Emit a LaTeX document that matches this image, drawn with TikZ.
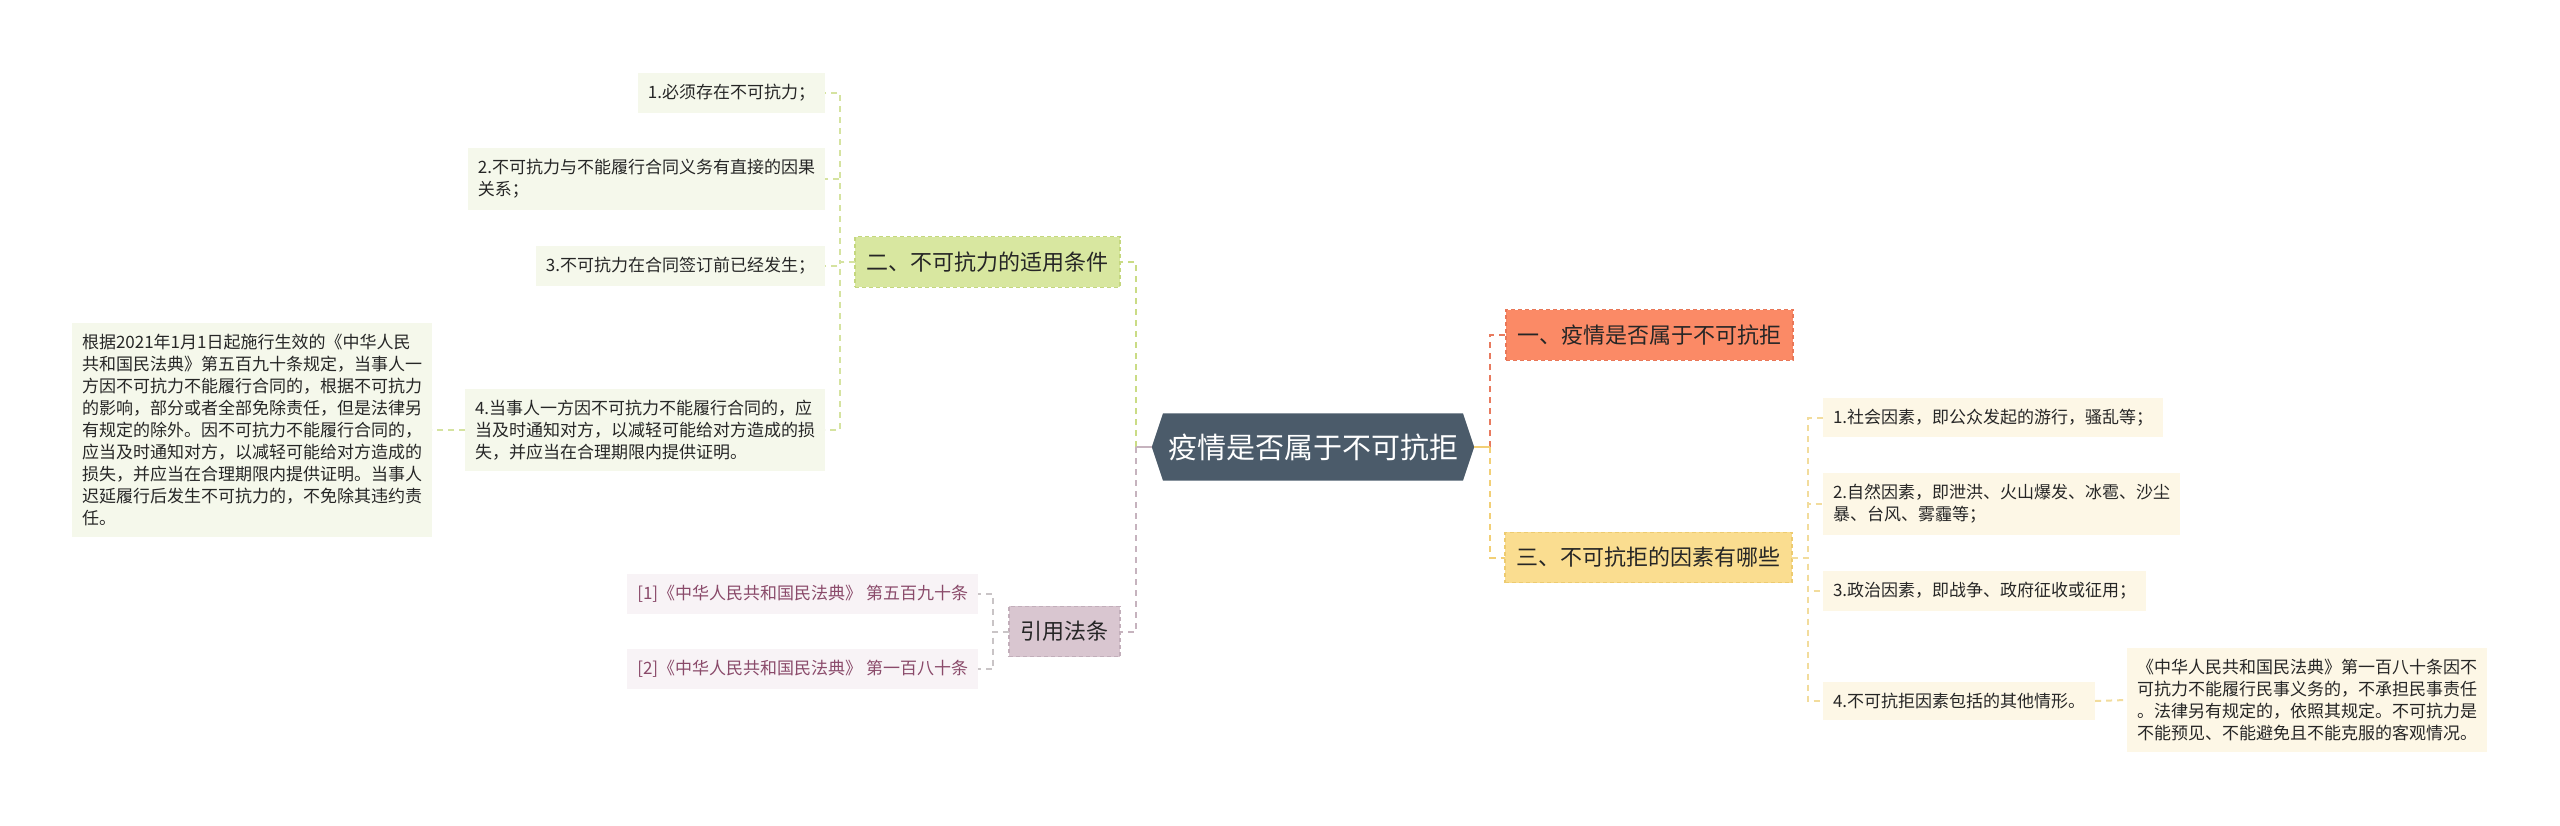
\documentclass[tikz,border=0pt]{standalone}
\usepackage{fontspec}
\newfontfamily\cjk{Noto Sans CJK SC}
\usetikzlibrary{shapes.symbols}
\definecolor{hexfill}{HTML}{4B5B6A}
\definecolor{txt}{HTML}{262626}
\definecolor{reftxt}{HTML}{8A4A6A}
\definecolor{c1fill}{HTML}{FB8A66}
\definecolor{c1bord}{HTML}{E97758}
\definecolor{c1line}{HTML}{E87A5E}
\definecolor{c2fill}{HTML}{D8E7A0}
\definecolor{c2bord}{HTML}{C4D77E}
\definecolor{c2line}{HTML}{CADC85}
\definecolor{c2soft}{HTML}{D5E3A0}
\definecolor{c3fill}{HTML}{FADD90}
\definecolor{c3bord}{HTML}{EDCB70}
\definecolor{c3line}{HTML}{F2CF76}
\definecolor{c3soft}{HTML}{F2DC9C}
\definecolor{c4fill}{HTML}{D9C6D0}
\definecolor{c4bord}{HTML}{C2AEBA}
\definecolor{c4line}{HTML}{C6B3BE}
\definecolor{c4soft}{HTML}{C9C4C6}
\definecolor{lgfill}{HTML}{F5F8EB}
\definecolor{ryfill}{HTML}{FDF7E6}
\definecolor{refill}{HTML}{F8F3F6}
\tikzset{
  conn/.style={line width=2pt, dash pattern=on 6pt off 5pt},
  stub/.style={line width=2pt},
  small/.style={font=\cjk\fontsize{17}{22}\selectfont, text=txt, inner xsep=10pt, inner ysep=11pt, align=left, outer sep=0pt},
  lsmall/.style={small, fill=lgfill},
  rsmall/.style={small, fill=ryfill},
  refnode/.style={small, fill=refill, text=reftxt},
  branch/.style={font=\cjk\fontsize{22}{26}\selectfont, text=txt, inner xsep=11.5pt, inner ysep=15pt, outer sep=0pt, line width=1.2pt, dash pattern=on 4pt off 3pt},
  rootnode/.style={shape=signal, signal to=east and west, signal pointer angle=143, fill=hexfill, text=white, font=\cjk\fontsize{29}{34}\selectfont, inner xsep=5pt, inner ysep=20pt, outer sep=0pt}
}
\begin{document}
\begin{tikzpicture}[x=1pt,y=-1pt]
\fill[white] (0,0) rectangle (2560,826);
\useasboundingbox (0,0) rectangle (2560,826);

% root
\node[rootnode] (root) at (1313,447) {疫情是否属于不可抗拒};

% main branches
\node[branch, fill=c1fill, draw=c1bord, anchor=west] (b1) at (1506,335) {一、疫情是否属于不可抗拒};
\node[branch, fill=c3fill, draw=c3bord, anchor=west] (b3) at (1505,557.5) {三、不可抗拒的因素有哪些};
\node[branch, fill=c2fill, draw=c2bord, anchor=east] (b2) at (1120,262) {二、不可抗力的适用条件};
\node[branch, fill=c4fill, draw=c4bord, anchor=east] (b4) at (1120,631.5) {引用法条};

% left children of b2
\node[lsmall, anchor=east] (a1) at (825,93) {1.必须存在不可抗力；};
\node[lsmall, anchor=east] (a2) at (825,179) {2.不可抗力与不能履行合同义务有直接的因果\\关系；};
\node[lsmall, anchor=east] (a3) at (825,266) {3.不可抗力在合同签订前已经发生；};
\node[lsmall, anchor=east] (a4) at (825,430) {4.当事人一方因不可抗力不能履行合同的，应\\当及时通知对方，以减轻可能给对方造成的损\\失，并应当在合理期限内提供证明。};
\node[lsmall, anchor=east] (a4x) at (432,430) {根据2021年1月1日起施行生效的《中华人民\\共和国民法典》第五百九十条规定，当事人一\\方因不可抗力不能履行合同的，根据不可抗力\\的影响，部分或者全部免除责任，但是法律另\\有规定的除外。因不可抗力不能履行合同的，\\应当及时通知对方，以减轻可能给对方造成的\\损失，并应当在合理期限内提供证明。当事人\\迟延履行后发生不可抗力的，不免除其违约责\\任。};

% references
\node[refnode, anchor=east] (r1) at (978,594) {[1]《中华人民共和国民法典》 第五百九十条};
\node[refnode, anchor=east] (r2) at (978,669) {[2]《中华人民共和国民法典》 第一百八十条};

% right children of b3
\node[rsmall, anchor=west] (c1) at (1823,417.5) {1.社会因素，即公众发起的游行，骚乱等；};
\node[rsmall, anchor=west] (c2) at (1823,504) {2.自然因素，即泄洪、火山爆发、冰雹、沙尘\\暴、台风、雾霾等；};
\node[rsmall, anchor=west] (c3) at (1823,591) {3.政治因素，即战争、政府征收或征用；};
\node[rsmall, anchor=west] (c4) at (1823,701) {4.不可抗拒因素包括的其他情形。};
\node[rsmall, anchor=west] (c4x) at (2127,700) {《中华人民共和国民法典》第一百八十条因不\\可抗力不能履行民事义务的，不承担民事责任\\。法律另有规定的，依照其规定。不可抗力是\\不能预见、不能避免且不能克服的客观情况。};

% junctions
\coordinate (jl) at (1136,447);
\coordinate (jr) at (1490,447);
\coordinate (jb2) at (840,262);
\coordinate (jb4) at (993,631.5);
\coordinate (jb3) at (1808,557.5);

% connectors root -> branches
\draw[conn, draw=c2line] (jl) |- (b2.east);
\draw[conn, draw=c4line] (jl) |- (b4.east);
\draw[stub, draw=c4line] (root.west) -- (jl);
\draw[conn, draw=c1line] (jr) |- (b1.west);
\draw[conn, draw=c3line] (jr) |- (b3.west);
\draw[stub, draw=c3line] (root.east) -- (jr);

% branch -> children
\foreach \n in {a1,a2,a3,a4} \draw[conn, draw=c2soft] (b2.west) -- (jb2) |- (\n.east);
\draw[conn, draw=c2soft] (a4.west) -- (a4x.east);
\foreach \n in {r1,r2} \draw[conn, draw=c4soft] (b4.west) -- (jb4) |- (\n.east);
\foreach \n in {c1,c2,c3,c4} \draw[conn, draw=c3soft] (b3.east) -- (jb3) |- (\n.west);
\draw[conn, draw=c3soft] (c4.east) -- (c4x.west);
\end{tikzpicture}
\end{document}
